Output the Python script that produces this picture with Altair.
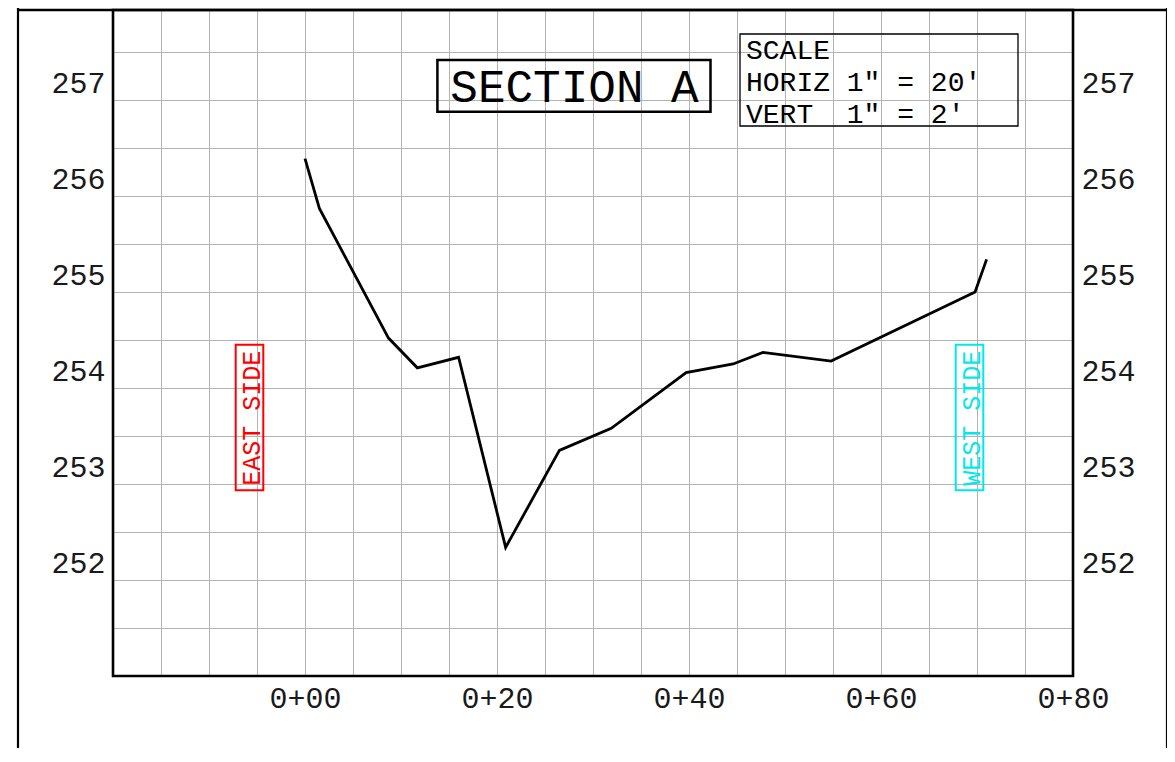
import altair as alt
import pandas as pd

# ---- data ----
station_ft = [0.0, 1.5, 8.7, 11.7, 16.0, 20.9, 26.5, 31.9, 39.7, 44.6, 47.7, 54.8, 69.8, 71.0]
elevation_ft = [256.39, 255.87, 254.52, 254.21, 254.32, 252.34, 253.35, 253.58, 254.16, 254.25,
                254.37, 254.28, 255.00, 255.34]

x_grid_values = [-15, -10, -5, 0, 5, 10, 15, 20, 25, 30, 35, 40, 45, 50, 55, 60, 65, 70, 75, 80]
x_label_values = [0, 20, 40, 60, 80]
x_label_texts = ["0+00", "0+20", "0+40", "0+60", "0+80"]
y_grid_values = [251.5, 252, 252.5, 253, 253.5, 254, 254.5, 255, 255.5, 256, 256.5, 257, 257.5]
y_label_values = [252, 253, 254, 255, 256, 257]

title_text = ["SECTION A"]
scale_lines = ["SCALE", "HORIZ 1\" = 20'", "VERT  1\" = 2'"]
east_label = ["EAST SIDE"]
west_label = ["WEST SIDE"]

FONT = "Liberation Mono"
GRID = "#b4b4b4"
LABEL = "#1a1a1a"

df = pd.DataFrame({"station": station_ft, "elev": elevation_ft})

xscale = alt.Scale(domain=[-20, 80], nice=False, zero=False)
yscale = alt.Scale(domain=[251, 257.9375], nice=False, zero=False)

x_expr = " : ".join(f"datum.value == {v} ? '{t}'" for v, t in zip(x_label_values, x_label_texts)) + " : ''"
y_expr = "indexof([" + ",".join(str(v) for v in y_label_values) + "], datum.value) >= 0 ? format(datum.value, 'd') : ''"

common_axis = dict(ticks=False, tickSize=0, domain=False, title=None, labelFont=FONT,
                   labelFontSize=30, labelColor=LABEL, labelFlush=False, labelOverlap=False)

line = alt.Chart(df).mark_line(color="black", strokeWidth=2.8).encode(
    x=alt.X("station:Q", scale=xscale,
            axis=alt.Axis(values=x_grid_values, labelExpr=x_expr, grid=True, gridColor=GRID,
                          gridWidth=1, orient="bottom", labelPadding=31,
                          labelBaseline="alphabetic", labelAlign="center", **common_axis)),
    y=alt.Y("elev:Q", scale=yscale,
            axis=alt.Axis(values=y_grid_values, labelExpr=y_expr, grid=True, gridColor=GRID,
                          gridWidth=1, orient="left", labelAlign="right", labelBaseline="alphabetic",
                          labelOffset=-8, labelPadding=8, **common_axis)),
)

right_axis = alt.Chart(df).mark_point(opacity=0).encode(
    y=alt.Y("elev:Q", scale=yscale,
            axis=alt.Axis(values=y_label_values, format="d", grid=False, orient="right",
                          labelAlign="left", labelBaseline="alphabetic", labelOffset=-8,
                          labelPadding=8, **common_axis)),
)

one = alt.Data(values=[{}])


def box(x1, x2, y1, y2, color, width):
    return alt.Chart(one).mark_rect(fillOpacity=0, stroke=color, strokeWidth=width).encode(
        x=alt.value(x1), x2=alt.value(x2), y=alt.value(y1), y2=alt.value(y2))


def rule(x1, x2, y1, y2, width):
    return alt.Chart(one).mark_rule(color="black", strokeWidth=width).encode(
        x=alt.value(x1), x2=alt.value(x2), y=alt.value(y1), y2=alt.value(y2))


title_layer = alt.Chart(pd.DataFrame({"t": title_text})).mark_text(
    font=FONT, fontSize=46, color="black", align="center", baseline="alphabetic"
).encode(text="t:N", x=alt.value(461.5), y=alt.value(91.7))

scale_layer = alt.Chart(one).mark_text(
    font=FONT, fontSize=28, color="black", align="left", baseline="alphabetic", lineHeight=32
).encode(text=alt.value([s.replace(" ", "\u00a0") for s in scale_lines]),
         x=alt.value(633), y=alt.value(49))

east_layer = alt.Chart(pd.DataFrame({"t": east_label})).mark_text(
    font=FONT, fontSize=25, color="#ff0000", align="center", baseline="middle", angle=270
).encode(text="t:N", x=alt.value(139), y=alt.value(408.3))

west_layer = alt.Chart(pd.DataFrame({"t": west_label})).mark_text(
    font=FONT, fontSize=25, color="#00e8e8", align="center", baseline="middle", angle=270
).encode(text="t:N", x=alt.value(859), y=alt.value(408.3))

chart = alt.layer(
    line,
    right_axis,
    box(324.4, 597.5, 50, 101.7, "black", 2.5),
    title_layer,
    box(627, 905, 24, 116, "black", 1.3),
    scale_layer,
    box(122.7, 150.3, 334.7, 480.3, "#ff0000", 2),
    east_layer,
    box(842.7, 870.3, 334.7, 480.3, "#00e8e8", 2),
    west_layer,
    box(0, 960, 0, 666, "black", 2.6),
    rule(-95, -95, -2, 745, 2.2),
    rule(1054, 1054, -2, 745, 2.2),
    rule(-95, 1054, 0, 0, 2.6),
).resolve_axis(y="independent").properties(
    width=960, height=666,
    padding={"left": 105, "top": 2, "right": 94, "bottom": 72},
    autosize=alt.AutoSizeParams(type="none"),
    background="white",
).configure_view(stroke=None)

chart.save("out.html", embed_options={"renderer": "svg", "actions": False})
